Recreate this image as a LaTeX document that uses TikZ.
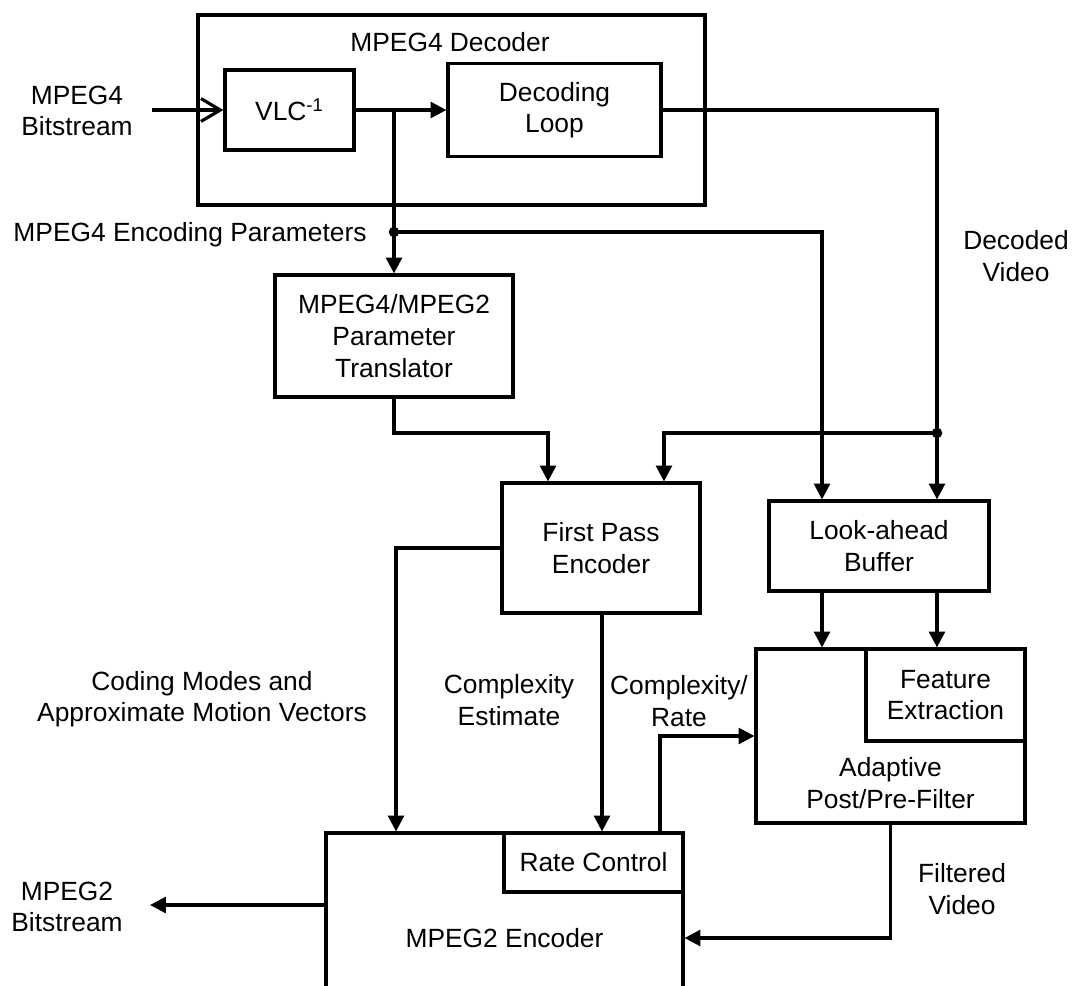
\documentclass[tikz,border=0pt]{standalone}
\usepackage{fontspec}
\setmainfont{Liberation Sans}
\usetikzlibrary{positioning,arrows.meta,calc}

\begin{document}
\begin{tikzpicture}[
    x=0.02cm, y=-0.02cm,
    >={Triangle[length=9pt,width=9pt]},
    every node/.style={font=\fontsize{15}{18}\selectfont, align=center},
    box/.style={draw, line width=1.8pt, inner sep=0pt, text centered},
    lbl/.style={inner sep=0pt},
    flowarrow/.style={->, line width=1.8pt, black},
    openarrow/.style={-{Straight Barb[length=11pt,width=13pt]}, line width=1.8pt},
]

% ---- Page frame ----
\useasboundingbox (0,0) rectangle (1072,985);
\clip (0,0) rectangle (1072,985);

% ---- Top: MPEG4 Decoder ----
\node[box, minimum width=10.14cm, minimum height=3.8cm] (dec) at (451.5,110) {};
\node[lbl] (dectitle) at (450,42) {MPEG4 Decoder};
\node[box, minimum width=2.58cm, minimum height=1.6cm] (vlc) at (289.5,110) {VLC\textsuperscript{-1}};
\node[box, minimum width=4.26cm, minimum height=1.86cm] (loop) at (554.5,110) {Decoding\\Loop};

\node[lbl] (inlbl) at (77,111) {MPEG4\\Bitstream};
\coordinate (bsin) at (152,110);
\draw[openarrow] (bsin) -- (vlc.west);
\draw[flowarrow] (vlc.east) -- (loop.west);

% ---- Middle: translator, first pass, look-ahead ----
\node[box, minimum width=4.76cm, minimum height=2.44cm] (trans) at (394,336) {MPEG4/MPEG2\\Parameter\\Translator};
\node[box, minimum width=3.96cm, minimum height=2.6cm] (fpe) at (601,548) {First Pass\\Encoder};
\node[box, minimum width=4.4cm, minimum height=1.8cm] (lab) at (879,546) {Look-ahead\\Buffer};

\node[lbl] (parlbl) at (190,235) {MPEG4 Encoding Parameters};
\node[lbl] (vidlbl) at (1016,256) {Decoded\\Video};

\coordinate (spl) at (394,110);
\coordinate (pdot) at (394,232);
\draw[flowarrow] (spl) -- (spl |- trans.north);
\draw[flowarrow] (pdot) -| ([xshift=-1.14cm]lab.north);
\fill (pdot) circle (3pt);

\draw[flowarrow] (loop.east) -| ([xshift=1.16cm]lab.north);
\coordinate (vdot) at ([xshift=1.16cm]lab.north |- 0,433);
\draw[flowarrow] (vdot) -| ([xshift=1.26cm]fpe.north);
\fill (vdot) circle (3pt);

\coordinate (tbend) at (548,433);
\draw[flowarrow] (trans.south) |- (tbend) -- (tbend |- fpe.north);

% ---- Bottom: filter and MPEG2 encoder ----
\node[box, minimum width=5.38cm, minimum height=3.48cm] (apf) at (890.5,736) {};
\node[lbl] (apflbl) at (890.5,783) {Adaptive\\Post/Pre-Filter};
\node[box, minimum width=3.18cm, minimum height=1.84cm] (fex) at (945.5,695) {Feature\\Extraction};

\node[box, minimum width=7.14cm, minimum height=4.2cm] (enc) at (504.5,938) {MPEG2 Encoder};
\node[box, minimum width=3.58cm, minimum height=1.18cm] (rc) at (593.5,862.5) {Rate Control};

\node[lbl] (cmlbl) at (202,699) {Coding Modes and\\Approximate Motion Vectors};
\node[lbl] (celbl) at (509,700) {Complexity\\Estimate};
\node[lbl] (crlbl) at (679,701) {Complexity/\\Rate};
\node[lbl] (outlbl) at (67,907) {MPEG2\\Bitstream};
\node[lbl] (fvlbl) at (962,889) {Filtered\\Video};

\draw[flowarrow] (fpe.west) -| ([xshift=-2.17cm]enc.north);
\draw[flowarrow] ([xshift=0.02cm]fpe.south) -- ([xshift=0.02cm]fpe.south |- rc.north);
\draw[flowarrow] ([xshift=1.33cm]rc.north) |- (apf.west);
\draw[flowarrow] ([xshift=-1.14cm]lab.south) -- ([xshift=-1.14cm]lab.south |- apf.north);
\draw[flowarrow] ([xshift=1.16cm]lab.south) -- ([xshift=1.16cm]lab.south |- apf.north);
\draw[flowarrow] (apf.south) |- (enc.east);

\coordinate (bsout) at (150,905);
\draw[flowarrow] (enc.west |- bsout) -- (bsout);

\end{tikzpicture}
\end{document}
